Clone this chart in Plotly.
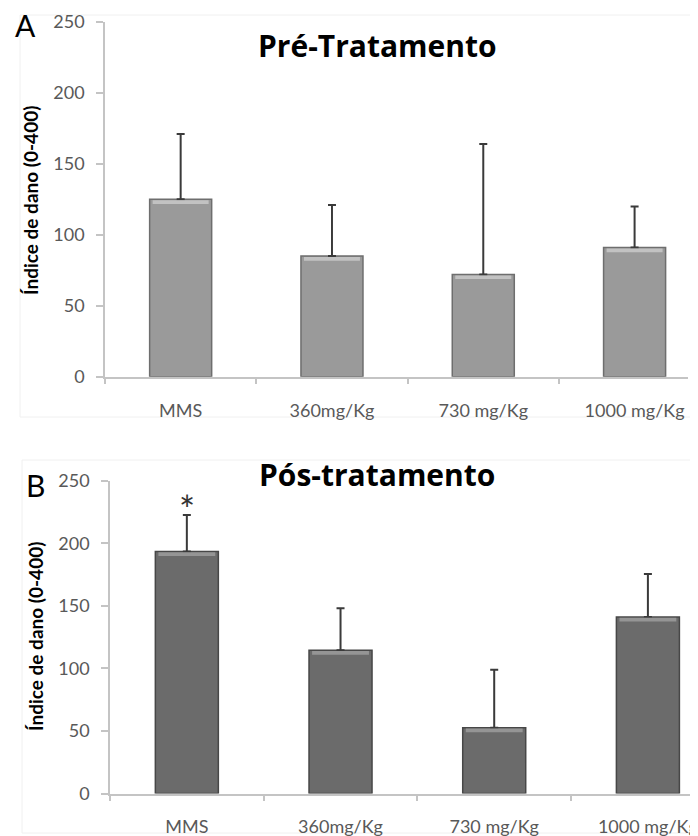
import plotly.graph_objects as go

# ---------------- data ----------------
categories = ["MMS", "360mg/Kg", "730 mg/Kg", "1000 mg/Kg"]
pre_mean = [125, 85, 72, 91]
pre_sd = [46, 36, 92, 29]
post_mean = [193.5, 114.5, 52.5, 141]
post_sd = [29, 33.5, 46.5, 34.5]
y_ticks = [0, 50, 100, 150, 200, 250]
title_pre = "Pré-Tratamento"
title_post = "Pós-tratamento"
y_title = "Índice de dano (0-400)"
sig_marker_value = 227  # asterisk level over MMS (post)

# ---------------- styling ----------------
W, H = 698, 836
OFF = 8  # page body margin
FONT = "Lato"
AXIS_COLOR = "#c4c4c4"
TICK_FONT = dict(family=FONT, size=18, color="#595959")


def px_x(x):
    return (x - OFF) / W


def px_y(y):
    return 1 - (y - OFF) / H


fig = go.Figure()


def add_panel(xa, ya, means, sds, fill, border, hl, hl_units):
    fig.add_trace(go.Bar(
        x=categories, y=means, xaxis=xa, yaxis=ya, width=0.41,
        marker=dict(color=fill, line=dict(color=border, width=1.5)),
        error_y=dict(type="data", array=sds, arrayminus=[0] * len(sds),
                     symmetric=False, color="#3a3a3a", thickness=2, width=4),
        showlegend=False, hoverinfo="skip"))
    # bevel highlight at top of each bar
    fig.add_trace(go.Bar(
        x=categories, y=[hl_units] * len(means),
        base=[m - hl_units - 0.6 for m in means], xaxis=xa, yaxis=ya, width=0.37,
        marker=dict(color=hl, line=dict(width=0)),
        showlegend=False, hoverinfo="skip"))


add_panel("x", "y", pre_mean, pre_sd, "#9a9a9a", "#6e6e6e", "#c2c2c2", 2.6)
add_panel("x2", "y2", post_mean, post_sd, "#6b6b6b", "#474747", "#959595", 3.0)

common_y = dict(range=[0, 250], tickvals=y_ticks, showgrid=False, zeroline=False,
                showline=True, linecolor=AXIS_COLOR, linewidth=1.5,
                ticks="outside", ticklen=7, tickcolor=AXIS_COLOR, tickwidth=1.5,
                tickfont=TICK_FONT, ticklabelstandoff=8, fixedrange=True,
                automargin=False)
common_x = dict(type="category", showgrid=False, zeroline=False,
                showline=True, linecolor=AXIS_COLOR, linewidth=1.5,
                ticks="outside", ticklen=6, tickcolor=AXIS_COLOR, tickwidth=1.5,
                tickson="boundaries", tickfont=TICK_FONT,
                fixedrange=True, automargin=False)

fig.update_layout(
    width=W, height=H, autosize=False,
    margin=dict(l=0, r=0, t=0, b=0, pad=0),
    paper_bgcolor="white", plot_bgcolor="rgba(0,0,0,0)",
    barmode="overlay",
    font=dict(family=FONT),
    xaxis=dict(common_x, domain=[px_x(105), px_x(688)], range=[-0.5, 3.353],
               anchor="y", ticklabelstandoff=17),
    yaxis=dict(common_y, domain=[px_y(376.7), px_y(22)], anchor="x"),
    xaxis2=dict(common_x, domain=[px_x(110), px_x(698)], range=[-0.5, 3.326],
                anchor="y2", ticklabelstandoff=16),
    yaxis2=dict(common_y, domain=[px_y(793.5), px_y(480.7)], anchor="x2"),
)

# faint chart-area frames
fig.add_shape(type="rect", xref="paper", yref="paper",
              x0=px_x(20), x1=px_x(720), y0=px_y(417), y1=px_y(15),
              line=dict(color="#f0f0f0", width=1), layer="below")
fig.add_shape(type="rect", xref="paper", yref="paper",
              x0=px_x(22), x1=px_x(720), y0=px_y(833), y1=px_y(460),
              line=dict(color="#f0f0f0", width=1), layer="below")

ann = [
    dict(text="A", x=px_x(25), y=px_y(25), font=dict(size=30, color="black")),
    dict(text="B", x=px_x(35), y=px_y(485), font=dict(size=30, color="black")),
    dict(text="<b>" + title_pre + "</b>", x=px_x(377), y=px_y(45),
         font=dict(family="Open Sans", size=30, color="black")),
    dict(text="<b>" + title_post + "</b>", x=px_x(377), y=px_y(474),
         font=dict(family="Open Sans", size=30, color="black")),
    dict(text="<b>" + y_title + "</b>", x=px_x(30), y=px_y(201), textangle=-90,
         font=dict(size=19, color="black")),
    dict(text="<b>" + y_title + "</b>", x=px_x(35), y=px_y(637), textangle=-90,
         font=dict(size=19, color="black")),
]
for a in ann:
    fig.add_annotation(xref="paper", yref="paper", showarrow=False,
                       xanchor="center", yanchor="middle", **a)

fig.add_annotation(x=categories[0], y=sig_marker_value, xref="x2", yref="y2",
                   text="*", showarrow=False, yanchor="middle",
                   font=dict(family=FONT, size=38, color="#333333"))

fig.write_html("out.html")
